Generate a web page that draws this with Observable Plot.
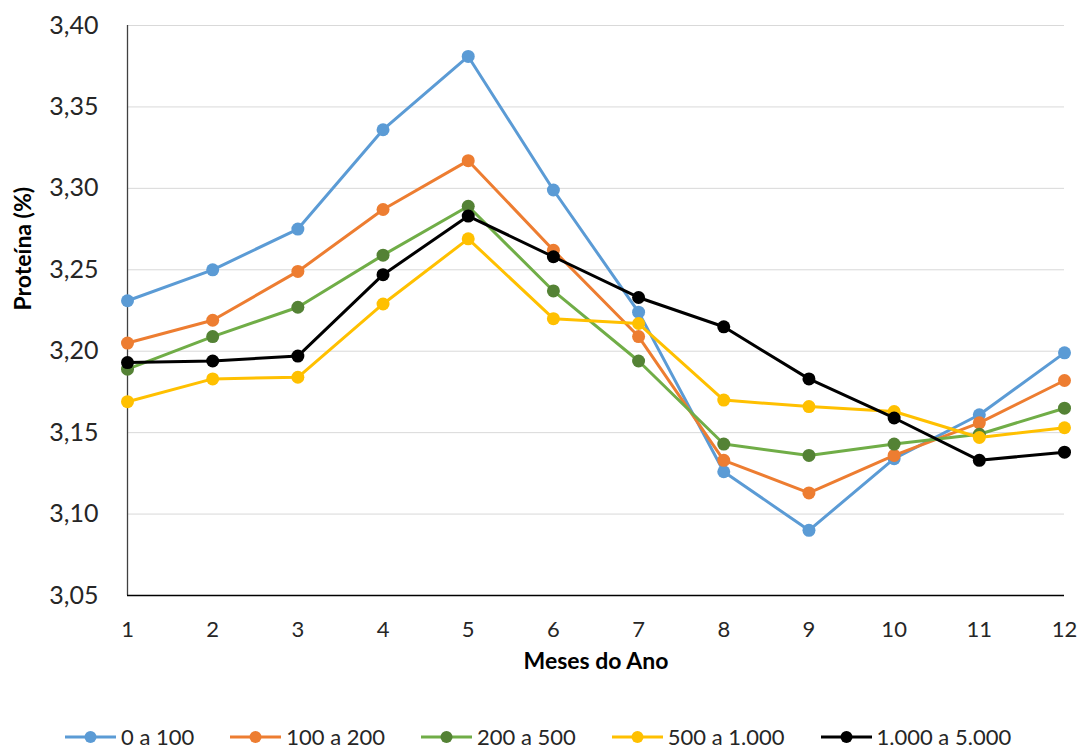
<!DOCTYPE html>
<html>
<head>
<meta charset="utf-8">
<script src="https://cdn.jsdelivr.net/npm/d3@7"></script>
<script src="https://cdn.jsdelivr.net/npm/@observablehq/plot@0.6"></script>
<style>
  html, body { margin: 0; padding: 0; background: #fff; }
  #wrap { position: relative; width: 1081px; height: 749px; font-family: Lato, "Open Sans", sans-serif; }
  #legend { position: absolute; left: 65px; top: 725px; height: 24px; display: flex; gap: 36px; align-items: center; font-size: 22px; line-height: 24px; color: #262626; }
  .item { display: flex; align-items: center; gap: 5px; white-space: nowrap; }
  .item svg { display: block; }
</style>
</head>
<body>
<div id="wrap"></div>
<script>
const months = [1, 2, 3, 4, 5, 6, 7, 8, 9, 10, 11, 12];
const seriesNames = ["0 a 100", "100 a 200", "200 a 500", "500 a 1.000", "1.000 a 5.000"];
const s0a100   = [3.231, 3.250, 3.275, 3.336, 3.381, 3.299, 3.224, 3.126, 3.090, 3.134, 3.161, 3.199];
const s100a200 = [3.205, 3.219, 3.249, 3.287, 3.317, 3.262, 3.209, 3.133, 3.113, 3.136, 3.156, 3.182];
const s200a500 = [3.189, 3.209, 3.227, 3.259, 3.289, 3.237, 3.194, 3.143, 3.136, 3.143, 3.149, 3.165];
const s500a1000 = [3.169, 3.183, 3.184, 3.229, 3.269, 3.220, 3.217, 3.170, 3.166, 3.163, 3.147, 3.153];
const s1000a5000 = [3.193, 3.194, 3.197, 3.247, 3.283, 3.258, 3.233, 3.215, 3.183, 3.159, 3.133, 3.138];
const seriesValues = [s0a100, s100a200, s200a500, s500a1000, s1000a5000];
const lineColors = ["#5B9BD5", "#ED7D31", "#70AD47", "#FFC000", "#000000"];
const markerColors = ["#5B9BD5", "#ED7D31", "#548235", "#FFC000", "#000000"];
const yTicks = [3.05, 3.10, 3.15, 3.20, 3.25, 3.30, 3.35, 3.40];

const fmt = d => d.toFixed(2).replace(".", ",");

const rows = seriesNames.map((name, i) => months.map((m, j) => ({series: name, month: m, value: seriesValues[i][j]})));

const seriesMarks = rows.flatMap((data, i) => [
  Plot.line(data, {x: "month", y: "value", stroke: lineColors[i], strokeWidth: 3}),
  Plot.dot(data, {x: "month", y: "value", r: 6.5, fill: markerColors[i], stroke: "none"})
]);

const chart = Plot.plot({
  width: 1081,
  height: 700,
  marginTop: 25,
  marginBottom: 105,
  marginLeft: 127,
  marginRight: 17,
  style: {fontFamily: "Lato, 'Open Sans', sans-serif", color: "#262626", background: "#fff"},
  x: {domain: [1, 12]},
  y: {domain: [3.05, 3.40]},
  marks: [
    Plot.gridY(yTicks, {stroke: "#d9d9d9", strokeOpacity: 1, strokeWidth: 1}),
    Plot.axisY(yTicks, {tickSize: 0, tickPadding: 29, tickFormat: fmt, fontSize: 25, label: null}),
    Plot.axisX(months, {tickSize: 0, tickPadding: 26, tickFormat: d => String(d), fontSize: 22, label: null}),
    Plot.ruleX([1], {stroke: "#404040", strokeWidth: 1.3}),
    Plot.ruleY([3.05], {stroke: "#000", strokeWidth: 1.3}),
    ...seriesMarks,
    Plot.text(["Meses do Ano"], {frameAnchor: "bottom", dy: 73, fontWeight: "bold", fontSize: 23, fill: "#000"}),
    Plot.text(["Proteína (%)"], {frameAnchor: "left", dx: -104, rotate: -90, fontWeight: "bold", fontSize: 23, fill: "#000"})
  ]
});

const wrap = document.getElementById("wrap");
wrap.appendChild(chart);

const legend = document.createElement("div");
legend.id = "legend";
seriesNames.forEach((name, i) => {
  const item = document.createElement("div");
  item.className = "item";
  item.innerHTML = `<svg width="51" height="16" viewBox="0 0 51 16"><line x1="0" y1="8" x2="51" y2="8" stroke="${lineColors[i]}" stroke-width="3"/><circle cx="25.5" cy="8" r="6" fill="${markerColors[i]}"/></svg><span>${name}</span>`;
  legend.appendChild(item);
});
wrap.appendChild(legend);
</script>
</body>
</html>
